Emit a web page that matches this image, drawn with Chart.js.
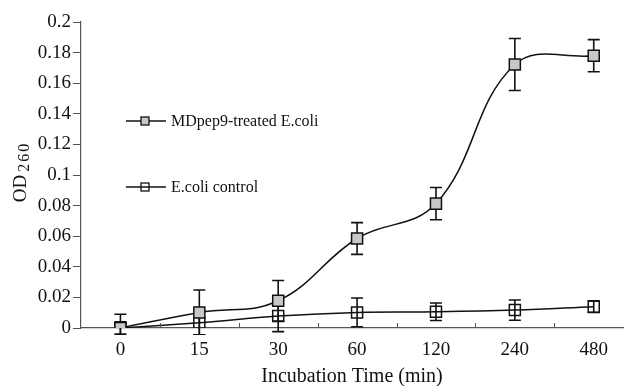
<!DOCTYPE html>
<html>
<head>
<meta charset="utf-8">
<script src="https://cdn.jsdelivr.net/npm/chart.js@4/dist/chart.umd.min.js"></script>
<style>
  html, body { margin: 0; padding: 0; background: #fff; overflow: hidden; }
  canvas { display: block; }
</style>
</head>
<body>
<canvas id="od-chart" width="633" height="386"></canvas>
<script>
// incubation times (min), shown as evenly spaced categories
const timeLabels = ["0", "15", "30", "60", "120", "240", "480"];

// OD260 readings, with +/- error
const treatedOD  = [0, 0.0102, 0.0178, 0.0585, 0.0813, 0.1722, 0.178];
const treatedErr = [0.009, 0.0146, 0.0132, 0.0104, 0.0105, 0.017, 0.0105];
const controlOD  = [0, 0.0035, 0.0078, 0.0102, 0.0106, 0.0117, 0.0139];
const controlErr = [0.004, 0.008, 0.0102, 0.0094, 0.0057, 0.0066, 0.0038];

const seriesNames = ["MDpep9-treated E.coli", "E.coli control"];
const xTitle = "Incubation Time (min)";

const SERIF = "'Liberation Serif', 'DejaVu Serif', serif";
const INK = "#111";
const GRAY = "#c8c8c8";

// categories sit at index positions; the axis runs a little past the right edge
const X_MIN = -0.5, X_MAX = 6.38;
const toPoints = arr => arr.map((v, i) => ({ x: i, y: v }));

// vertical error bars, drawn under the markers
const errorBars = {
  id: "errorBars",
  beforeDatasetsDraw(chart) {
    const ctx = chart.ctx, y = chart.scales.y, area = chart.chartArea;
    ctx.save();
    ctx.beginPath();
    ctx.rect(area.left, area.top - 10, area.right - area.left, area.bottom - area.top + 17);
    ctx.clip();
    ctx.strokeStyle = INK;
    ctx.lineWidth = 1.6;
    chart.data.datasets.forEach((ds, i) => {
      const meta = chart.getDatasetMeta(i);
      meta.data.forEach((pt, j) => {
        const v = ds.data[j].y, e = ds.errors[j];
        const top = y.getPixelForValue(v + e), bot = y.getPixelForValue(v - e);
        ctx.beginPath();
        ctx.moveTo(pt.x, top); ctx.lineTo(pt.x, bot);
        ctx.moveTo(pt.x - 6, top); ctx.lineTo(pt.x + 6, top);
        ctx.moveTo(pt.x - 6, bot); ctx.lineTo(pt.x + 6, bot);
        ctx.stroke();
      });
    });
    ctx.restore();
  },
  afterDraw(chart) {
    const ctx = chart.ctx, x = chart.scales.x, area = chart.chartArea;
    ctx.save();
    // small inside ticks between the categories
    ctx.strokeStyle = "#555";
    ctx.lineWidth = 1;
    for (let k = 0; k < timeLabels.length; k++) {
      const px = Math.round(x.getPixelForValue(k + 0.5)) + 0.5;
      ctx.beginPath();
      ctx.moveTo(px, area.bottom);
      ctx.lineTo(px, area.bottom - 5);
      ctx.stroke();
    }

    // x axis title
    ctx.fillStyle = INK;
    ctx.font = "20px " + SERIF;
    ctx.textAlign = "center";
    ctx.textBaseline = "alphabetic";
    ctx.fillText(xTitle, 352, 382);
    ctx.textAlign = "left";

    // y axis title OD260 with subscript
    ctx.translate(26, 172);
    ctx.rotate(-Math.PI / 2);
    ctx.font = "19px " + SERIF;
    const w1 = ctx.measureText("OD").width;
    ctx.font = "16px " + SERIF;
    ctx.letterSpacing = "2px";
    const w2 = ctx.measureText("260").width;
    const x0 = -(w1 + 3 + w2) / 2;
    ctx.letterSpacing = "0px";
    ctx.font = "19px " + SERIF;
    ctx.fillText("OD", x0, 0);
    ctx.font = "16px " + SERIF;
    ctx.letterSpacing = "2px";
    ctx.fillText("260", x0 + w1 + 3, 3);
    ctx.letterSpacing = "0px";
    ctx.setTransform(1, 0, 0, 1, 0, 0);

    // legend inside the plot
    const rows = [
      { name: seriesNames[0], fill: GRAY, y: 121 },
      { name: seriesNames[1], fill: "rgba(0,0,0,0)", y: 187 }
    ];
    ctx.font = "16px " + SERIF;
    ctx.textBaseline = "middle";
    rows.forEach(r => {
      ctx.strokeStyle = INK;
      ctx.lineWidth = 1.5;
      ctx.beginPath();
      ctx.moveTo(126, r.y); ctx.lineTo(166, r.y);
      ctx.stroke();
      ctx.fillStyle = r.fill;
      ctx.fillRect(141, r.y - 4, 8, 8);
      ctx.lineWidth = 1.3;
      ctx.strokeRect(141, r.y - 4, 8, 8);
      ctx.fillStyle = INK;
      ctx.fillText(r.name, 171, r.y + 1);
    });
    ctx.restore();
  }
};

new Chart(document.getElementById("od-chart"), {
  type: "line",
  data: {
    datasets: [
      {
        label: seriesNames[0],
        data: toPoints(treatedOD),
        errors: treatedErr,
        borderColor: INK,
        borderWidth: 1.5,
        tension: 0.4,
        pointStyle: "rect",
        pointRadius: 7.8,
        pointBackgroundColor: GRAY,
        pointBorderColor: INK,
        pointBorderWidth: 1.5
      },
      {
        label: seriesNames[1],
        data: toPoints(controlOD),
        errors: controlErr,
        borderColor: INK,
        borderWidth: 1.5,
        tension: 0.4,
        pointStyle: "rect",
        pointRadius: 7.8,
        pointBackgroundColor: "rgba(0,0,0,0)",
        pointBorderColor: INK,
        pointBorderWidth: 1.5
      }
    ]
  },
  plugins: [errorBars],
  options: {
    responsive: false,
    animation: false,
    layout: { padding: { top: 22, right: 0, left: 0, bottom: 0 } },
    plugins: {
      legend: { display: false },
      tooltip: { enabled: false }
    },
    scales: {
      x: {
        type: "linear",
        min: X_MIN,
        max: X_MAX,
        afterBuildTicks(scale) {
          scale.ticks = timeLabels.map((_, i) => ({ value: i }));
        },
        grid: { display: true, drawOnChartArea: false, drawTicks: false, color: "#555", tickLength: 0 },
        border: { color: "#555", width: 1.2 },
        ticks: {
          color: INK,
          font: { family: SERIF, size: 19 },
          padding: 11,
          maxRotation: 0,
          autoSkip: false,
          callback: v => timeLabels[v]
        },
        afterFit(scale) { scale.height = 58; }
      },
      y: {
        min: 0,
        max: 0.2,
        grid: { drawOnChartArea: false, drawTicks: true, tickLength: 8, color: "#555" },
        border: { color: "#555", width: 1.2 },
        ticks: {
          stepSize: 0.02,
          color: INK,
          padding: 2,
          font: { family: SERIF, size: 19 },
          callback: v => String(Number(v.toFixed(2)))
        },
        afterFit(scale) { scale.width = 81; }
      }
    }
  }
});
</script>
</body>
</html>
